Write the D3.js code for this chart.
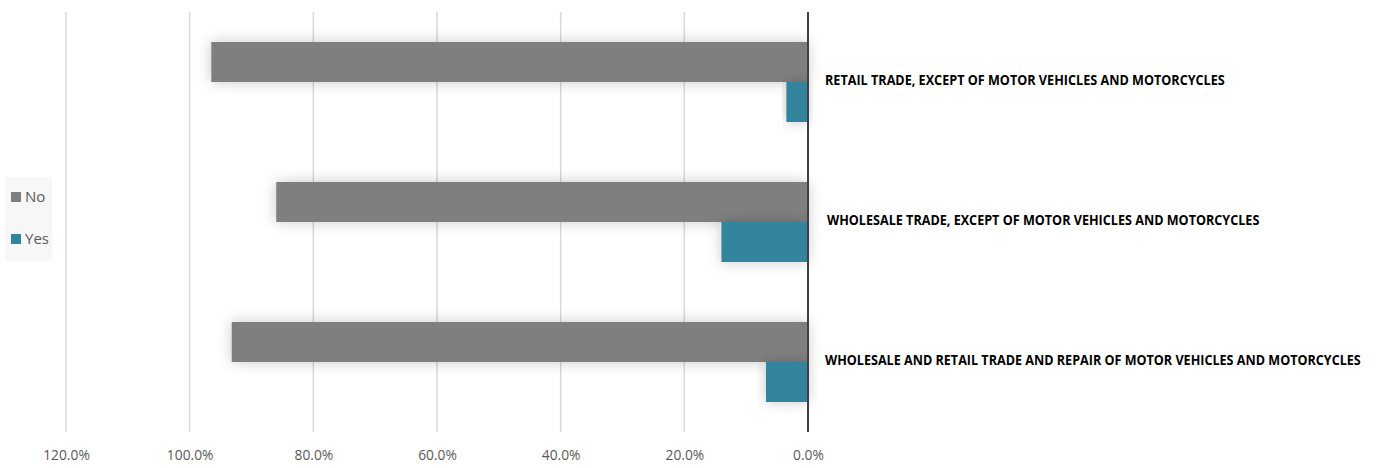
<!DOCTYPE html>
<html><head><meta charset="utf-8">
<script src="https://cdn.jsdelivr.net/npm/d3@7"></script>
<style>
html,body{margin:0;padding:0;background:#fff;}
svg{display:block;}
</style></head>
<body>
<script>
const categories = [
  "RETAIL TRADE, EXCEPT OF MOTOR VEHICLES AND MOTORCYCLES",
  "WHOLESALE TRADE, EXCEPT OF MOTOR VEHICLES AND MOTORCYCLES",
  "WHOLESALE AND RETAIL TRADE AND REPAIR OF MOTOR VEHICLES AND MOTORCYCLES"
];
const seriesNames = ["No", "Yes"];
const noValues = [96.5, 86.0, 93.2];
const yesValues = [3.5, 14.0, 6.8];
const tickValues = [0, 20, 40, 60, 80, 100, 120];
const colors = ["#7f7f7f", "#31859c"];

const W = 1379, H = 468;
const font = "'Open Sans',Arial,sans-serif";
const svg = d3.select("body").append("svg").attr("width", W).attr("height", H);

const defs = svg.append("defs");
const f = defs.append("filter").attr("id","sh").attr("x","-20%").attr("y","-60%").attr("width","140%").attr("height","220%");
f.append("feDropShadow").attr("dx",0).attr("dy",0).attr("stdDeviation",7).attr("flood-color","#000").attr("flood-opacity",0.22);

const x = d3.scaleLinear().domain([0, 120]).range([808, 66]);
const y = d3.scaleBand().domain(categories).range([12, 432]).paddingInner(0.4286).paddingOuter(0.2143);
const ys = d3.scaleBand().domain(seriesNames).range([0, y.bandwidth()]);

// gridlines
svg.append("g").selectAll("line").data(tickValues.filter(d => d > 0)).join("line")
  .attr("x1", d => x(d)).attr("x2", d => x(d))
  .attr("y1", 12).attr("y2", 432)
  .attr("stroke", "#d9d9d9").attr("stroke-width", 1.5);

// bars
const data = [];
categories.forEach((c, i) => {
  data.push({cat: c, s: "No", v: noValues[i]});
  data.push({cat: c, s: "Yes", v: yesValues[i]});
});
svg.append("g").selectAll("rect").data(data).join("rect")
  .attr("x", d => x(d.v))
  .attr("width", d => x(0) - x(d.v))
  .attr("y", d => y(d.cat) + ys(d.s))
  .attr("height", ys.bandwidth())
  .attr("fill", d => colors[seriesNames.indexOf(d.s)])
  .attr("filter", "url(#sh)");

// zero axis line
svg.append("line").attr("x1", x(0)).attr("x2", x(0)).attr("y1", 12).attr("y2", 432)
  .attr("stroke", "#404040").attr("stroke-width", 2);

// x axis tick labels
const xAxis = d3.axisBottom(x).tickValues(tickValues).tickSize(0).tickFormat(d => d.toFixed(1) + "%");
const ga = svg.append("g").attr("transform", "translate(0,446)").call(xAxis);
ga.select(".domain").remove();
ga.selectAll("text").attr("font-family", font).attr("font-size", 15).attr("fill", "#595959").attr("dy", "0.71em")
  .attr("transform", "scale(0.92,1)");

// category labels (condensed horizontally to match reference widths)
const labelWidths = [400, 433, 536];
const labelX = [825, 827, 825];
svg.append("g").selectAll("text").data(categories).join("text")
  .attr("y", d => y(d) + y.bandwidth() / 2 - 2)
  .attr("dy", "0.35em")
  .attr("font-family", font).attr("font-weight", "bold").attr("font-size", 13.5)
  .attr("fill", "#000")
  .text(d => d)
  .each(function(d, i) {
    const w = this.getComputedTextLength();
    const k = labelWidths[i] / w;
    d3.select(this).attr("x", 0).attr("transform", `translate(${labelX[i]},0) scale(${k},1)`);
  });

// legend
const lg = svg.append("g");
lg.append("rect").attr("x", 5).attr("y", 177).attr("width", 47).attr("height", 84).attr("fill", "#f7f7f7");
const items = lg.selectAll("g").data(seriesNames).join("g")
  .attr("transform", (d, i) => `translate(11,${197 + i * 42})`);
items.append("rect").attr("x", 0).attr("y", -5).attr("width", 10).attr("height", 10)
  .attr("fill", (d, i) => colors[i]);
items.append("text").attr("x", 14).attr("y", 0).attr("dy", "0.35em")
  .attr("font-family", font).attr("font-size", 15).attr("fill", "#595959").text(d => d);
</script>
</body></html>
